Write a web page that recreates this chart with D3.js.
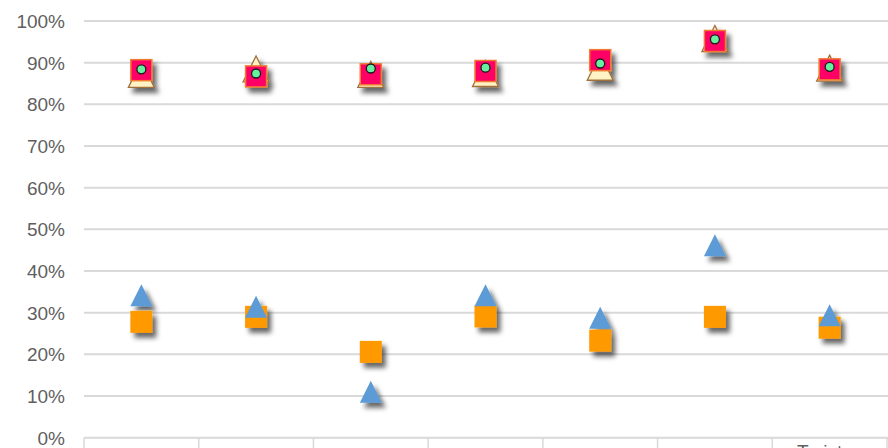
<!DOCTYPE html>
<html>
<head>
<meta charset="utf-8">
<script src="https://cdn.jsdelivr.net/npm/d3@7"></script>
<style>
  html, body { margin: 0; padding: 0; background: #fff; overflow: hidden; }
  svg { display: block; }
</style>
</head>
<body>
<div id="chart"></div>
<script>
// categories (only the last label is readable in the picture)
const categories = ["", "", "", "", "", "", "Tarist"];
const yTicks = [0, 0.1, 0.2, 0.3, 0.4, 0.5, 0.6, 0.7, 0.8, 0.9, 1];

// series values (fraction of 1)
const beigeTri = [0.872, 0.885, 0.872, 0.874, 0.889, 0.958, 0.887];
const pinkSq = [0.882, 0.867, 0.872, 0.880, 0.906, 0.952, 0.884];
const greenDot = [0.884, 0.874, 0.886, 0.888, 0.898, 0.956, 0.890];
const orangeSq = [0.278, 0.290, 0.206, 0.291, 0.233, 0.290, 0.264];
const blueTri = [0.342, 0.314, 0.110, 0.342, 0.288, 0.462, 0.294];

const width = 888, height = 448;
const margin = {top: 21, right: 1, bottom: 10, left: 84};

const svg = d3.select('#chart').append('svg')
  .attr('width', width)
  .attr('height', height);

let defs = svg.append('defs');
let f = defs.append('filter').attr('id', 'shadow')
  .attr('x', '-50%').attr('y', '-50%').attr('width', '200%').attr('height', '200%');
f.append('feDropShadow')
  .attr('dx', 4).attr('dy', 5)
  .attr('stdDeviation', 2.6)
  .attr('flood-color', '#000')
  .attr('flood-opacity', 0.6);

let x = d3.scaleBand()
  .domain(d3.range(categories.length))
  .range([margin.left, width - margin.right])
  .padding(0);
let y = d3.scaleLinear()
  .domain([0, 1])
  .range([height - margin.bottom - 0.3, margin.top]);

// grid
svg.append('g').attr('class', 'grid')
  .selectAll('line')
  .data(yTicks.slice(1))
  .join('line')
  .attr('x1', margin.left).attr('x2', width)
  .attr('y1', d => y(d)).attr('y2', d => y(d))
  .attr('stroke', '#d9d9d9')
  .attr('stroke-width', 2);

// y labels
svg.append('g').attr('class', 'ylabels')
  .selectAll('text')
  .data(yTicks)
  .join('text')
  .attr('x', 65)
  .attr('y', d => y(d))
  .attr('dy', '0.36em')
  .attr('text-anchor', 'end')
  .attr('font-family', '"Liberation Sans", Arial, sans-serif')
  .attr('font-size', 19)
  .attr('fill', '#5f5f5f')
  .text(d => Math.round(d * 100) + '%');

// x axis line and ticks between categories
let xa = svg.append('g').attr('class', 'xaxis');
xa.append('line')
  .attr('x1', margin.left).attr('x2', width)
  .attr('y1', y(0)).attr('y2', y(0))
  .attr('stroke', '#d9d9d9').attr('stroke-width', 2);
let edges = d3.range(categories.length).map(i => x(i)).concat([x.range()[1]]);
xa.selectAll('line.tick')
  .data(edges)
  .join('line')
  .attr('class', 'tick')
  .attr('x1', d => d).attr('x2', d => d)
  .attr('y1', y(0)).attr('y2', height)
  .attr('stroke', '#d9d9d9').attr('stroke-width', 1.5);
xa.selectAll('text')
  .data(categories)
  .join('text')
  .attr('x', (d, i) => x(i) + x.bandwidth() / 2 - 10)
  .attr('y', y(0) + 20)
  .attr('text-anchor', 'middle')
  .attr('font-family', '"Liberation Sans", Arial, sans-serif')
  .attr('font-size', 19)
  .attr('fill', '#5f5f5f')
  .text(d => d);

const cx = i => x(i) + x.bandwidth() / 2;

function tri(px, py, w, h) {
  return `M${px},${py - h / 2}L${px + w / 2},${py + h / 2}L${px - w / 2},${py + h / 2}Z`;
}

let marks = svg.append('g').attr('filter', 'url(#shadow)');

// low cluster
marks.append('g').selectAll('rect')
  .data(orangeSq)
  .join('rect')
  .attr('x', (d, i) => cx(i) - 11)
  .attr('y', d => y(d) - 11)
  .attr('width', 22).attr('height', 22)
  .attr('fill', '#ff9900');

marks.append('g').selectAll('path')
  .data(blueTri)
  .join('path')
  .attr('d', (d, i) => tri(cx(i), y(d), 22, 22))
  .attr('fill', '#5b9bd5');

// high cluster
marks.append('g').selectAll('path')
  .data(beigeTri)
  .join('path')
  .attr('d', (d, i) => tri(cx(i), y(d), 26, 26))
  .attr('fill', '#fff2c4')
  .attr('stroke', '#a0703c')
  .attr('stroke-width', 1.3);

marks.append('g').selectAll('rect')
  .data(pinkSq)
  .join('rect')
  .attr('x', (d, i) => cx(i) - 10.5)
  .attr('y', d => y(d) - 10.5)
  .attr('width', 21).attr('height', 21)
  .attr('fill', '#ff0066')
  .attr('stroke', '#f07a30')
  .attr('stroke-width', 1.5);

marks.append('g').selectAll('circle')
  .data(greenDot)
  .join('circle')
  .attr('cx', (d, i) => cx(i))
  .attr('cy', d => y(d))
  .attr('r', 4.5)
  .attr('fill', '#66f0a0')
  .attr('stroke', '#1a1a1a')
  .attr('stroke-width', 1.3);
</script>
</body>
</html>
